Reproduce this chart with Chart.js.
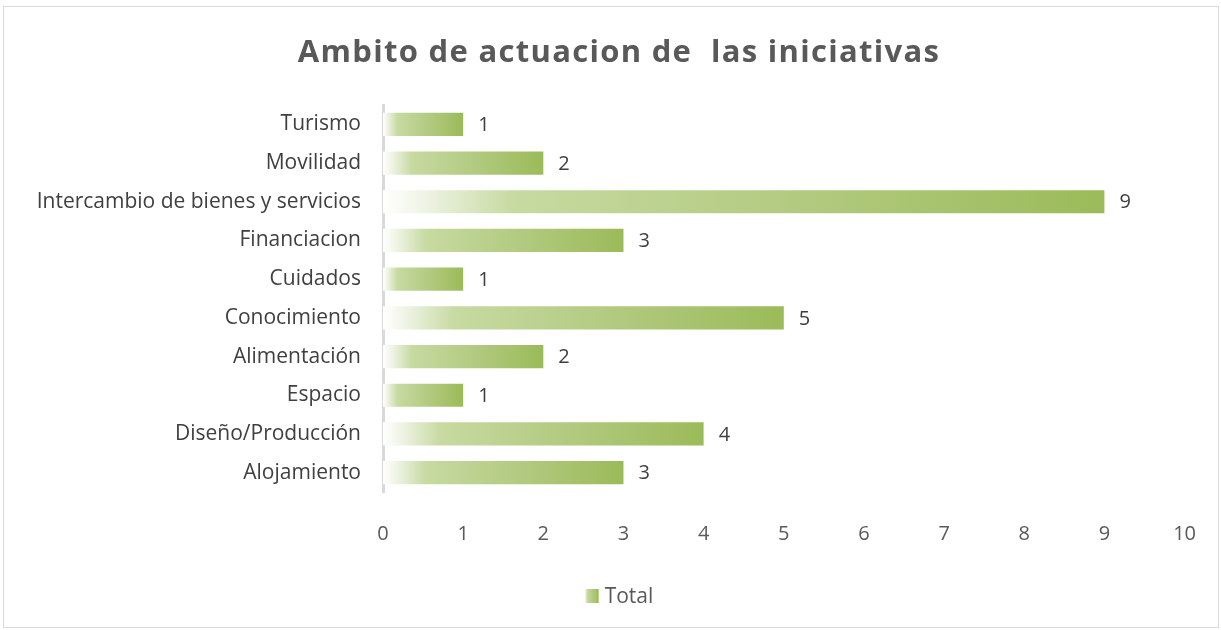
<!DOCTYPE html>
<html>
<head>
<meta charset="utf-8">
<script src="https://cdn.jsdelivr.net/npm/chart.js@4.4.0/dist/chart.umd.min.js"></script>
<style>
  html, body { margin: 0; padding: 0; background: #fff; }
  #wrap { position: absolute; left: 3px; top: 6px; width: 1216px; height: 622px; border: 1px solid #d9d9d9; box-sizing: border-box; }
  #chart { display: block; }
</style>
</head>
<body>
<div id="wrap"><canvas id="chart" width="1214" height="620"></canvas></div>
<script>
// Chart data
const categories = ['Turismo', 'Movilidad', 'Intercambio de bienes y servicios', 'Financiacion', 'Cuidados',
    'Conocimiento', 'Alimentación', 'Espacio', 'Diseño/Producción', 'Alojamiento'];
const totals = [1, 2, 9, 3, 1, 5, 2, 1, 4, 3];
const xTicks = [0, 1, 2, 3, 4, 5, 6, 7, 8, 9, 10];
const chartTitle = 'Ambito de actuacion de  las iniciativas';
const seriesName = 'Total';

const textColor = '#595959';
const font = '"Open Sans", "Liberation Sans", sans-serif';

function fillGradient(g) {
    g.addColorStop(0, '#ffffff');
    g.addColorStop(0.05, '#f1f5e8');
    g.addColorStop(0.18, '#c7daa1');
    g.addColorStop(0.55, '#b3cb82');
    g.addColorStop(1, '#9bbb59');
    return g;
}

// horizontal gradient per bar, white on the left to green on the right
function barGradient(context) {
    const chart = context.chart;
    if (!chart.chartArea || context.dataIndex === undefined) return '#9bbb59';
    const x = chart.scales.x;
    const x0 = x.getPixelForValue(0);
    const x1 = x.getPixelForValue(totals[context.dataIndex]);
    if (!isFinite(x0) || !isFinite(x1) || x1 - x0 < 1) return '#9bbb59';
    return fillGradient(chart.ctx.createLinearGradient(x0, 0, x1, 0));
}

// value labels, title with letter spacing, and legend
const extras = {
    id: 'extras',
    afterDatasetsDraw(chart) {
        const ctx = chart.ctx;
        const meta = chart.getDatasetMeta(0);
        ctx.save();
        ctx.font = '20px ' + font;
        ctx.fillStyle = '#404040';
        ctx.textAlign = 'left';
        ctx.textBaseline = 'middle';
        meta.data.forEach((bar, i) => {
            ctx.fillText(String(totals[i]), bar.x + 15, bar.y + 1);
        });
        ctx.restore();
    },
    afterDraw(chart) {
        const ctx = chart.ctx;
        const w = chart.width;
        ctx.save();
        // title
        ctx.font = 'bold 31px ' + font;
        ctx.letterSpacing = '1.3px';
        ctx.fillStyle = textColor;
        ctx.textAlign = 'center';
        ctx.textBaseline = 'middle';
        ctx.fillText(chartTitle, w / 2 + 8, 46);
        // legend
        ctx.letterSpacing = '0px';
        ctx.font = '21px ' + font;
        ctx.textAlign = 'left';
        const tw = ctx.measureText(seriesName).width;
        const box = 14, gap = 6;
        const lx = w / 2 - (box + gap + tw) / 2 + 8;
        const ly = 589;
        ctx.fillStyle = fillGradient(ctx.createLinearGradient(lx, 0, lx + box, 0));
        ctx.fillRect(lx, ly - box / 2, box, box);
        ctx.fillStyle = textColor;
        ctx.fillText(seriesName, lx + box + gap, ly + 1);
        ctx.restore();
    }
};

new Chart(document.getElementById('chart'), {
    type: 'bar',
    data: {
        labels: categories,
        datasets: [{
            label: seriesName,
            data: totals,
            backgroundColor: barGradient,
            borderWidth: 0,
            barPercentage: 0.6,
            categoryPercentage: 1
        }]
    },
    options: {
        indexAxis: 'y',
        responsive: false,
        animation: false,
        layout: { padding: { left: 10, right: 8, top: 98, bottom: 59 } },
        scales: {
            x: {
                min: 0,
                max: 10,
                grid: { display: false },
                border: { display: false },
                afterBuildTicks(scale) { scale.ticks = xTicks.map(v => ({ value: v })); },
                ticks: { color: textColor, font: { family: font, size: 20 }, padding: 22 }
            },
            y: {
                grid: { display: false, drawTicks: false },
                border: { display: true, color: '#d9d9d9', width: 3 },
                ticks: { color: '#404040', font: { family: font, size: 21 }, padding: 22 },
                afterFit(scale) { scale.width = 369; }
            }
        },
        plugins: {
            title: { display: false },
            legend: { display: false },
            tooltip: { enabled: false }
        }
    },
    plugins: [extras]
});
</script>
</body>
</html>
